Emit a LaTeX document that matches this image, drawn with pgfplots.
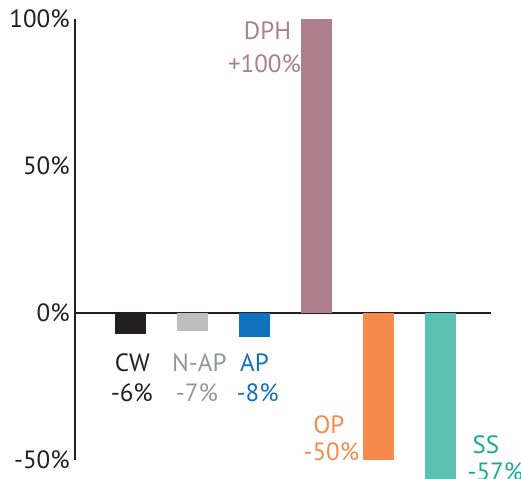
\documentclass[border=0pt]{standalone}
\usepackage{pgfplots}
\pgfplotsset{compat=1.18}
\usepackage{fontspec}
\setmainfont{PT Sans}
\definecolor{axc}{HTML}{231F20}
\definecolor{cw}{HTML}{231F20}
\definecolor{nap}{HTML}{BCBEC0}
\definecolor{naptxt}{HTML}{939598}
\definecolor{ap}{HTML}{1071BC}
\definecolor{dph}{HTML}{AD7E8C}
\definecolor{op}{HTML}{F58A4B}
\definecolor{ss}{HTML}{5BC2B3}
\definecolor{sstxt}{HTML}{1BA99A}
\begin{document}
\fontsize{12.5}{15}\selectfont
\begin{tikzpicture}
\begin{axis}[
  x=31pt, y=1.47pt,
  xmin=0.105, xmax=6.815, ymin=-50, ymax=100,
  axis y line=left, axis x line=middle,
  axis line style={-, draw=axc, line width=0.75pt},
  xtick=\empty, ytick={-50,0,50,100},
  yticklabels={-50\%,0\%,50\%,100\%},
  major tick length=0pt,
  yticklabel style={text=axc, font=\fontsize{12.5}{15}\selectfont, inner xsep=2.5pt},
  ybar, bar width=15.5pt, bar shift=0pt, clip=false,
  every node/.append style={font=\fontsize{12.5}{15}\selectfont},
]
\addplot[fill=cw, draw=none] coordinates {(1,-7)};
\addplot[fill=nap, draw=none] coordinates {(2,-6)};
\addplot[fill=ap, draw=none] coordinates {(3,-8)};
\addplot[fill=dph, draw=none] coordinates {(4,100)};
\addplot[fill=op, draw=none] coordinates {(5,-50)};
\addplot[fill=ss, draw=none] coordinates {(6,-57)};

\node[anchor=base, text=cw] at (axis cs:1.03,-20.0) {CW};
\node[anchor=base, text=cw] at (axis cs:1.02,-30.2) {-6\%};
\node[anchor=base, text=naptxt] at (axis cs:2.11,-20.0) {N-AP};
\node[anchor=base, text=naptxt] at (axis cs:2.07,-30.2) {-7\%};
\node[anchor=base, text=ap] at (axis cs:3.0,-20.0) {AP};
\node[anchor=base, text=ap] at (axis cs:3.05,-30.2) {-8\%};
\node[anchor=base, text=dph] at (axis cs:3.21,92.9) {DPH};
\node[anchor=base, text=dph] at (axis cs:3.16,82.0) {+100\%};
\node[anchor=base, text=op] at (axis cs:4.20,-40.8) {OP};
\node[anchor=base, text=op] at (axis cs:4.24,-50.0) {-50\%};
\node[anchor=base, text=sstxt] at (axis cs:6.73,-47.6) {SS};
\node[anchor=base west, text=sstxt, inner xsep=0pt] at (axis cs:6.43,-56.8) {-57\%};

\coordinate (TL) at (axis cs:-1.105,106.5);
\coordinate (BR) at (axis cs:7.298,-56.1);
\end{axis}
\pgfresetboundingbox
\path[use as bounding box] (TL) rectangle (BR);
\end{tikzpicture}
\end{document}
